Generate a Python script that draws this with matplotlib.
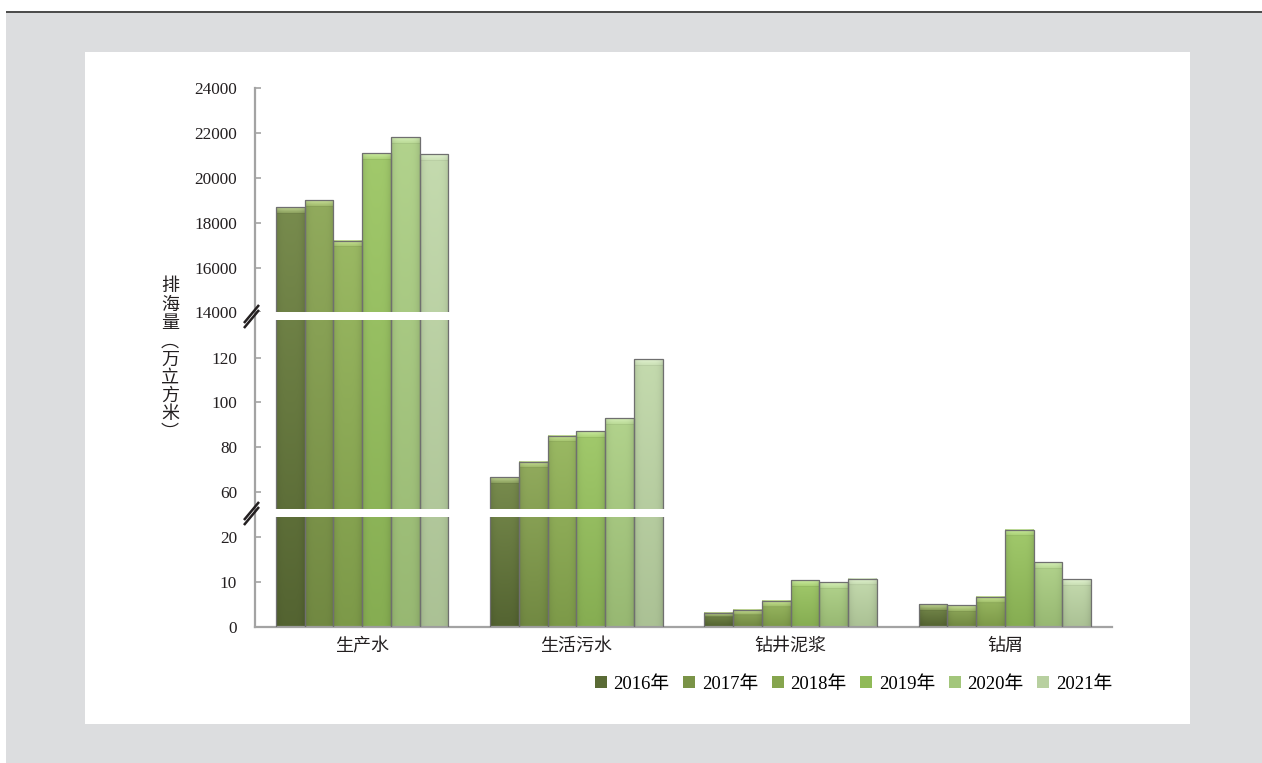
import numpy as np
import matplotlib
matplotlib.use("Agg")
import matplotlib.pyplot as plt
import matplotlib.transforms as mtransforms
from matplotlib.patches import Rectangle, Patch
from matplotlib.path import Path
from matplotlib.colors import to_rgb, rgb_to_hsv, hsv_to_rgb

plt.rcParams['font.family'] = ['Liberation Serif', 'Noto Sans CJK SC']
plt.rcParams['font.size'] = 12

# 排海量（万立方米），每个列表按类别顺序：生产水、生活污水、钻井泥浆、钻屑
categories = ['生产水', '生活污水', '钻井泥浆', '钻屑']
years = ['2016年', '2017年', '2018年', '2019年', '2020年', '2021年']
y2016 = [18680, 66.6, 3.2, 5.1]
y2017 = [19010, 73.6, 3.8, 4.8]
y2018 = [17200, 85.2, 5.8, 6.7]
y2019 = [21090, 87.1, 10.4, 21.7]
y2020 = [21800, 92.9, 10.0, 14.4]
y2021 = [21050, 119.2, 10.8, 10.6]
series = [y2016, y2017, y2018, y2019, y2020, y2021]

ytick_values = [0, 10, 20, 60, 80, 100, 120,
                14000, 16000, 18000, 20000, 22000, 24000]
ytick_labels = [str(v) for v in ytick_values]

colors = ['#5a6b35', '#7a9347', '#86a54e', '#90ba58', '#a3c67b', '#b8d0a0']

# 断轴：三段线性刻度，段与段之间留空隙
seg_vals = [0, 24.5, 52.5, 136.7, 14026, 24000]
seg_pos = [0, 2.449, 2.627, 6.834, 7.013, 12]


def fwd(v):
    return np.interp(v, seg_vals, seg_pos)


def inv(p):
    return np.interp(p, seg_pos, seg_vals)


fig = plt.figure(figsize=(12.62, 7.63), dpi=100)
fig.patch.set_facecolor('white')

# 灰色底、顶部深色线、白色面板
fig.add_artist(Rectangle((6 / 1262, 0), 1, (763 - 13) / 763, transform=fig.transFigure,
                         facecolor='#dcdddf', edgecolor='none', zorder=-3))
fig.add_artist(Rectangle((6 / 1262, (763 - 13) / 763), 1, 2 / 763, transform=fig.transFigure,
                         facecolor='#4d4d4d', edgecolor='none', zorder=-2))
fig.add_artist(Rectangle((85 / 1262, (763 - 724) / 763), (1190 - 85) / 1262, (724 - 52) / 763,
                         transform=fig.transFigure, facecolor='white', edgecolor='none', zorder=-1))

ax = fig.add_axes([255 / 1262, (763 - 627) / 763, (1112 - 255) / 1262, (627 - 88) / 763])
ax.patch.set_visible(False)
ax.set_yscale('function', functions=(fwd, inv))
ax.set_xlim(-0.5, 3.5)
ax.set_ylim(0, 24000)


def shade(bar, color):
    # 给柱子铺一层竖向渐变和顶部斜面高光
    bb = bar.get_window_extent()
    (x0, y0), (x1, y1) = ax.transAxes.inverted().transform([[bb.x0, bb.y0], [bb.x1, bb.y1]])
    W = max(int(round(bb.width)), 2)
    H = max(int(round(bb.height)), 2)
    h, s, v = rgb_to_hsv(np.array(to_rgb(color)))
    t = np.linspace(1, 0, H)[:, None]
    v_bot = v * 0.93
    v_top = v + (1 - v) * 0.22
    vv = np.repeat(v_bot + (v_top - v_bot) * t, W, axis=1)
    ss = np.repeat(s * (1 - 0.12 * t), W, axis=1)
    bev = min(6, H // 3)
    for r in range(bev):
        a = 0.45 * (1 - r / max(bev, 1)) + 0.15
        vv[r] = vv[r] + (1 - vv[r]) * a
        ss[r] = ss[r] * (0.95 - 0.25 * (1 - r / max(bev, 1)))
    if H > bev + 1 and bev > 0:
        vv[bev] = vv[bev] * 0.95
    u = np.linspace(-1, 1, W)[None, :]
    V = np.clip(vv * (1 - 0.10 * np.abs(u) ** 4), 0, 1)
    hsv = np.stack([np.full((H, W), h), ss, V], axis=-1)
    rgb = hsv_to_rgb(hsv)
    ax.imshow(rgb, extent=(x0, x1, y0, y1), transform=ax.transAxes, origin='upper',
              aspect='auto', interpolation='bilinear', zorder=2)


x = np.arange(len(categories))
bw = 0.134
n = len(years)
for j, (vals, col) in enumerate(zip(series, colors)):
    xs = x + (j - (n - 1) / 2) * bw
    bars = ax.bar(xs, vals, bw, facecolor='none', edgecolor='#6f6f6f', linewidth=0.9, zorder=3)
    for b in bars:
        shade(b, col)

ax.set_xlim(-0.5, 3.5)
ax.set_ylim(0, 24000)

# 断轴处的白色缺口和斜线
gaps = [(seg_vals[1], seg_vals[2]), (seg_vals[3], seg_vals[4])]
for lo, hi in gaps:
    ax.axhspan(lo, hi, xmin=0.004, xmax=1, facecolor='white', edgecolor='none', zorder=4)

brk = Path([(-7.5, -11.5), (7.5, 6.5), (-7.5, -6.5), (7.5, 11.5)],
           [Path.MOVETO, Path.LINETO, Path.MOVETO, Path.LINETO])
brk_tr = mtransforms.offset_copy(ax.get_yaxis_transform(), fig=fig, x=-4, y=0, units='dots')
ax.plot([0, 0], [(lo + hi) / 2 for lo, hi in gaps], ls='none', marker=brk, ms=16.6,
        mfc='none', mec='#231f20', mew=1.8, transform=brk_tr, clip_on=False, zorder=6)

for side in ['top', 'right']:
    ax.spines[side].set_visible(False)
for side in ['left', 'bottom']:
    ax.spines[side].set_color('#a3a3a3')
    ax.spines[side].set_linewidth(1.6)

ax.set_yticks(ytick_values)
ax.set_yticklabels(ytick_labels)
ax.yaxis.set_minor_locator(plt.NullLocator())
ax.tick_params(axis='y', direction='in', length=4, width=1.2, color='#a3a3a3',
               labelcolor='#231f20', pad=13, labelsize=12.4)
ax.set_xticks(x)
ax.set_xticklabels(categories)
ax.tick_params(axis='x', length=0, pad=8, labelcolor='#231f20', labelsize=13)

fig.text(170 / 1262, (763 - 360) / 763, '排\n海\n量\n︵\n万\n立\n方\n米\n︶',
         ha='center', va='center', linespacing=1.1, color='#231f20', fontsize=13)

handles = [Patch(facecolor=c, edgecolor='none') for c in colors]
ax.legend(handles, years, loc='center right', bbox_to_anchor=(1112 / 1262, (763 - 684) / 763),
          bbox_transform=fig.transFigure, ncol=6, frameon=False, fontsize=13.5,
          handlelength=0.65, handleheight=0.65, handletextpad=0.35, columnspacing=0.72,
          borderpad=0, borderaxespad=0)

fig.savefig('out.png', dpi=100)
